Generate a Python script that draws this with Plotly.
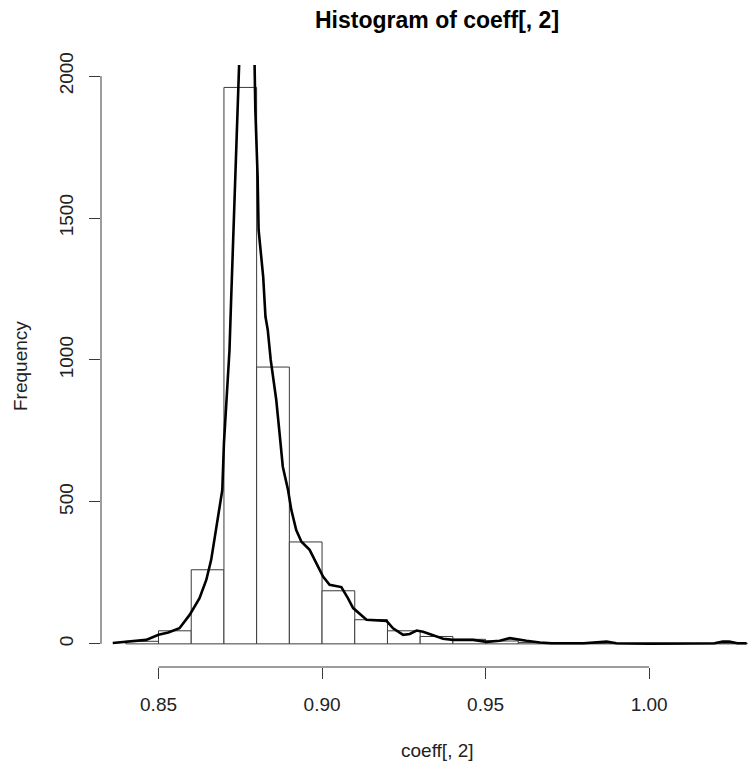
import plotly.graph_objects as go

# Histogram bins (left edges, width 0.01) and counts
bin_left = [0.84, 0.85, 0.86, 0.87, 0.88, 0.89, 0.90, 0.91, 0.92, 0.93,
            0.94, 0.95, 0.96, 0.97, 0.98, 0.99, 1.00, 1.01, 1.02]
counts = [9, 46, 261, 1960, 975, 359, 187, 85, 46, 26,
          16, 10, 5, 1, 2, 1, 0, 1, 2]
bin_width = 0.01

# Scaled density curve overlay
dens_x = [0.8360, 0.8401, 0.8430, 0.8462, 0.8500, 0.8530, 0.8564, 0.8595, 0.8625,
          0.8646, 0.8661, 0.8671, 0.8685, 0.8695, 0.8700, 0.8707, 0.8717, 0.8722,
          0.8735, 0.8739, 0.8745, 0.8760, 0.8775, 0.8790, 0.8796, 0.8801, 0.8803,
          0.8806, 0.8815, 0.8820, 0.8827, 0.8834, 0.8843, 0.8860, 0.8870, 0.8880,
          0.8896, 0.8906, 0.8921, 0.8937, 0.8962, 0.8983, 0.9003, 0.9023, 0.9049,
          0.9059, 0.9079, 0.9095, 0.9136, 0.9197, 0.9217, 0.9248, 0.9268, 0.9289,
          0.9309, 0.9339, 0.9370, 0.9400, 0.9462, 0.9503, 0.9543, 0.9574, 0.9600,
          0.9625, 0.9666, 0.9700, 0.9800, 0.9850, 0.9870, 0.9900, 1.0000, 1.0200,
          1.0225, 1.0245, 1.0270, 1.0298]
dens_y = [3, 8, 10, 14, 32, 40, 55, 102, 160,
          225, 296, 366, 461, 542, 707, 836, 1035, 1211,
          1700, 1860, 2100, 2500, 2550, 2300, 1880, 1751, 1645,
          1458, 1364, 1293, 1152, 1106, 1000, 859, 742, 624,
          542, 472, 401, 360, 331, 284, 237, 208, 202,
          200, 161, 126, 85, 81, 55, 32, 35, 47,
          43, 32, 18, 14, 14, 7, 11, 20, 15,
          11, 5, 2, 2, 8, 8, 2, 1, 2,
          8, 8, 2, 2]

x_ticks = [0.85, 0.90, 0.95, 1.00]
x_ticktext = ["0.85", "0.90", "0.95", "1.00"]
y_ticks = [0, 500, 1000, 1500, 2000]
y_ticktext = ["0", "500", "1000", "1500", "2000"]

title = "Histogram of coeff[, 2]"
x_title = "coeff[, 2]"
y_title = "Frequency"

W, H = 752, 767
L, R, T, B = 101, 0, 65, 100
axis_col = "#3a3a3a"
font_family = "Liberation Sans, Arial, sans-serif"

centers = [b + bin_width / 2 for b in bin_left]

fig = go.Figure()
fig.add_trace(go.Bar(
    x=centers, y=counts, width=bin_width,
    marker=dict(color="white", line=dict(color="#3a3a3a", width=1)),
    hoverinfo="skip", showlegend=False,
))
fig.add_trace(go.Scatter(
    x=dens_x, y=dens_y, mode="lines",
    line=dict(color="black", width=2.6),
    hoverinfo="skip", showlegend=False,
))

fig.update_layout(
    width=W, height=H,
    margin=dict(l=L, r=R, t=T, b=B, pad=0),
    paper_bgcolor="white", plot_bgcolor="white",
    bargap=0,
    font=dict(family=font_family, size=19, color="#222"),
    showlegend=False,
)

fig.update_xaxes(
    range=[0.83241, 1.03146],
    tickvals=x_ticks, ticktext=x_ticktext,
    ticks="outside", ticklen=11, tickwidth=1, tickcolor=axis_col,
    ticklabelstandoff=9,
    showgrid=False, zeroline=False, showline=False,
    tickfont=dict(size=19, color="#222"),
)
fig.update_yaxes(
    range=[-81.5, 2039],
    tickvals=y_ticks, ticktext=y_ticktext,
    ticks="outside", ticklen=11, tickwidth=1, tickcolor=axis_col,
    tickangle=-90, ticklabelstandoff=8,
    showgrid=False, zeroline=False, showline=False,
    tickfont=dict(size=19, color="#222"),
)

# R-style axis lines spanning first to last tick
fig.add_shape(type="line", xref="x", yref="paper",
              x0=x_ticks[0], x1=x_ticks[-1], y0=0, y1=0,
              line=dict(color=axis_col, width=1))
fig.add_shape(type="line", xref="paper", yref="y",
              x0=0, x1=0, y0=y_ticks[0], y1=y_ticks[-1],
              line=dict(color=axis_col, width=1))

plot_w = W - L - R
fig.add_annotation(text=f"<b>{title}</b>", xref="paper", yref="paper",
                   x=(437 - L) / plot_w, y=1, yshift=T - 20,
                   xanchor="center", yanchor="middle", showarrow=False,
                   font=dict(size=23, color="black", family=font_family))
fig.add_annotation(text=x_title, xref="paper", yref="paper",
                   x=(437 - L) / plot_w, y=0, yshift=-(750 - (H - B)),
                   xanchor="center", yanchor="middle", showarrow=False,
                   font=dict(size=19, color="#222", family=font_family))
fig.add_annotation(text=y_title, xref="paper", yref="paper",
                   x=0, xshift=-(L - 20), y=0.5,
                   xanchor="center", yanchor="middle", textangle=-90,
                   showarrow=False,
                   font=dict(size=19, color="#222", family=font_family))

fig.write_html("out.html",
               config={"displayModeBar": False, "staticPlot": True},
               post_script="document.body.style.margin='0';document.body.style.overflow='hidden';")
